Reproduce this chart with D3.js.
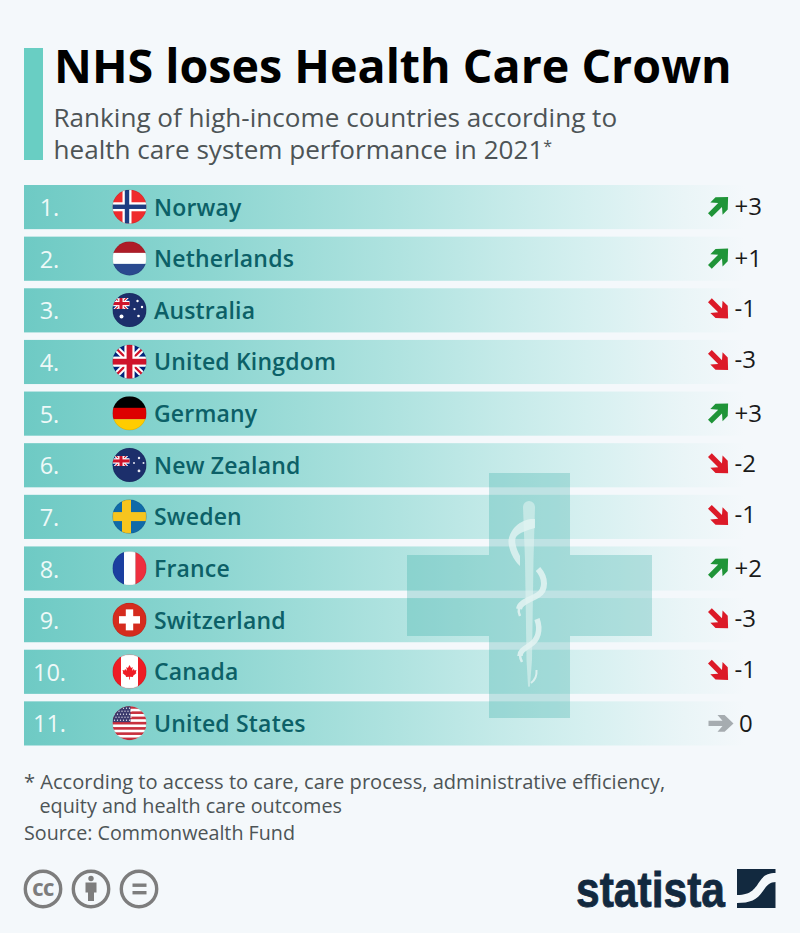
<!DOCTYPE html>
<html>
<head>
<meta charset="utf-8">
<script src="https://cdn.jsdelivr.net/npm/d3@7"></script>
<style>
  html, body { margin: 0; padding: 0; background: #f4f8fb; }
  svg { display: block; font-family: "Open Sans", sans-serif; }
</style>
</head>
<body>
<svg id="chart" width="800" height="933"></svg>
<script>
const countries = ["Norway", "Netherlands", "Australia", "United Kingdom", "Germany", "New Zealand",
  "Sweden", "France", "Switzerland", "Canada", "United States"];
const ranks = [1, 2, 3, 4, 5, 6, 7, 8, 9, 10, 11];
const changes = [3, 1, -1, -3, 3, -2, -1, 2, -3, -1, 0];
const subtitleLines = ["Ranking of high-income countries according to", "health care system performance in 2021"];
const noteLines = ["* According to access to care, care process, administrative efficiency,", "equity and health care outcomes"];

const svg = d3.select("#chart");
const defs = svg.append("defs");

const grad = defs.append("linearGradient")
  .attr("id", "rowFade")
  .attr("gradientUnits", "userSpaceOnUse")
  .attr("x1", 24).attr("x2", 775).attr("y1", 0).attr("y2", 0);
[[0, "#6ecac4"], [0.25, "#8dd6d1"], [0.5, "#b0e3e0"], [0.75, "#d6f0f0"], [0.88, "#eaf5f7"], [0.96, "#f4f8fb"]].forEach(s => {
  grad.append("stop").attr("offset", s[0]).attr("stop-color", s[1]);
});

const r = 17;
defs.append("clipPath").attr("id", "flagClip")
  .append("circle").attr("r", r);

// rows
const y = d3.scaleBand()
  .domain(countries)
  .range([185, 745.5])
  .paddingInner(0.145)
  .paddingOuter(0);

// header
svg.append("rect").attr("x", 24).attr("y", 48).attr("width", 19).attr("height", 112).attr("fill", "#69cec3");
svg.append("text").attr("x", 54).attr("y", 83)
  .attr("font-size", 46.6).attr("font-weight", 700).attr("fill", "#000")
  .text("NHS loses Health Care Crown");
const sub = svg.append("g").selectAll("text").data(subtitleLines).join("text")
  .attr("x", 53.5)
  .attr("y", (d, i) => 127 + i * 31.5)
  .attr("font-size", 26.1).attr("fill", "#4d5456")
  .text(d => d);
// the asterisk is set as a small superscript in the second line
sub.filter((d, i) => i === 1).append("tspan")
  .attr("font-size", 16).attr("dy", -7).text("*");

const row = svg.append("g").selectAll("g").data(countries).join("g")
  .attr("class", "row");

row.append("rect")
  .attr("x", 24).attr("width", 751)
  .attr("y", d => y(d)).attr("height", y.bandwidth())
  .attr("fill", "url(#rowFade)");

// cross watermark sits over the bars, rod and snake on top of it
const cross = svg.append("g");
cross.append("path")
  .attr("d", "M489,473H570V555H652V636H570V718H489V636H407V555H489Z")
  .attr("fill", "#00948e").attr("opacity", 0.22);
const rodFill = "#e4f4f3";
cross.append("path")
  .attr("d", "M523,507a6,6 0 0 1 12,0L533.5,560L532,660L530,686q-1,2 -2,0L526.5,660L525,560Z")
  .attr("fill", rodFill).attr("opacity", 0.55);
const snake = cross.append("g").attr("fill", "none").attr("stroke", rodFill).attr("opacity", 0.85);
cross.append("path")
  .attr("d", "M535,519C524,518 511,526 508.5,540C508,548 513,560 520,566L520,556C516,548 514,541 516,537C520,532 528,530 535,528Z")
  .attr("fill", rodFill).attr("opacity", 0.8);
snake.append("path").attr("stroke-width", 6)
  .attr("d", "M538,569C546,578 546,590 538,595C530,600 520,602 519,609");
snake.append("path").attr("stroke-width", 2.5)
  .attr("d", "M519,608C518,612 519,614 520,616");
snake.append("path").attr("stroke-width", 5.5)
  .attr("d", "M537,619C541,630 538,640 530,645C524,649 520,651 520,656");
snake.append("path").attr("stroke-width", 2.5)
  .attr("d", "M520,655C520,658 521,660 522,662");
snake.append("path").attr("stroke-width", 2)
  .attr("d", "M536.5,670C537,676 535,680 531,683");

const rowLabels = svg.append("g").selectAll("g").data(countries).join("g")
  .attr("transform", d => `translate(0,${y(d) + y.bandwidth() / 2})`);

rowLabels.append("text")
  .data(ranks)
  .attr("x", 49.5).attr("y", 9).attr("text-anchor", "middle")
  .attr("font-size", 23.5).attr("fill", "#eef9f8")
  .text(d => d + ".");

rowLabels.data(countries).append("text")
  .attr("x", 154).attr("y", 8.5)
  .attr("font-size", 23).attr("font-weight", 600).attr("letter-spacing", 0.18)
  .attr("fill", "#0c6067")
  .text(d => d);

// flags, drawn in a local box around the circle centre
const RED = "#ef2b2d", NAVY = "#1c2f6b", BLUE = "#00247d";
function rect(g, x, yy, w, h, fill) {
  g.append("rect").attr("x", x).attr("y", yy).attr("width", w).attr("height", h).attr("fill", fill);
}
function line(g, x1, y1, x2, y2, stroke, width) {
  g.append("line").attr("x1", x1).attr("y1", y1).attr("x2", x2).attr("y2", y2)
    .attr("stroke", stroke).attr("stroke-width", width);
}
function union(g, s, ox, oy) {
  // union jack, s = half width, centred on ox,oy
  const h = s;
  const u = g.append("g").attr("transform", `translate(${ox},${oy})`);
  u.append("rect").attr("x", -s).attr("y", -h).attr("width", 2 * s).attr("height", 2 * h).attr("fill", BLUE);
  line(u, -s, -h, s, h, "#fff", s * 0.36);
  line(u, -s, h, s, -h, "#fff", s * 0.36);
  line(u, -s, -h, s, h, "#cf142b", s * 0.13);
  line(u, -s, h, s, -h, "#cf142b", s * 0.13);
  rect(u, -s, -h * 0.3, 2 * s, h * 0.6, "#fff");
  rect(u, -s * 0.3, -h, s * 0.6, 2 * h, "#fff");
  rect(u, -s, -h * 0.17, 2 * s, h * 0.34, "#cf142b");
  rect(u, -s * 0.17, -h, s * 0.34, 2 * h, "#cf142b");
}
function stars(g, pts, fill) {
  g.selectAll("circle.st").data(pts).join("circle").attr("class", "st")
    .attr("cx", d => d[0]).attr("cy", d => d[1]).attr("r", d => d[2]).attr("fill", fill);
}
const flags = {
  "Norway": g => {
    rect(g, -r, -r, 2 * r, 2 * r, RED);
    rect(g, -r, -4.5, 2 * r, 9, "#fff");
    rect(g, -7, -r, 9, 2 * r, "#fff");
    rect(g, -r, -2.2, 2 * r, 4.4, "#1d3e82");
    rect(g, -4.7, -r, 4.4, 2 * r, "#1d3e82");
  },
  "Netherlands": g => {
    rect(g, -r, -r, 2 * r, 11.5, "#ae1c28");
    rect(g, -r, -5.5, 2 * r, 11, "#fff");
    rect(g, -r, 5.5, 2 * r, 12, "#2a4a8f");
  },
  "Australia": g => {
    rect(g, -r, -r, 2 * r, 2 * r, NAVY);
    g.append("clipPath").attr("id", "auClip").append("rect").attr("x", -r).attr("y", -12).attr("width", 17).attr("height", 11);
    union(g.append("g").attr("clip-path", "url(#auClip)"), 9, -8.5, -6.5);
    stars(g, [[-8, 6.5, 2], [8, -9, 1.2], [12.5, -3, 1.2], [5, -1, 1.1], [9, 6, 1.3]], "#fff");
  },
  "United Kingdom": g => union(g, r, 0, 0),
  "Germany": g => {
    rect(g, -r, -r, 2 * r, 12, "#000");
    rect(g, -r, -5.5, 2 * r, 11.5, "#dd0000");
    rect(g, -r, 6, 2 * r, 11, "#ffcc00");
  },
  "New Zealand": g => {
    rect(g, -r, -r, 2 * r, 2 * r, NAVY);
    g.append("clipPath").attr("id", "nzClip").append("rect").attr("x", -r).attr("y", -9).attr("width", 17).attr("height", 10);
    union(g.append("g").attr("clip-path", "url(#nzClip)"), 9, -8.5, -4);
    stars(g, [[9.5, -7, 1.2], [14, -2, 1], [4.5, -2, 1], [9.5, 6, 1.4]], "#e8e8f0");
  },
  "Sweden": g => {
    rect(g, -r, -r, 2 * r, 2 * r, "#106aa8");
    rect(g, -r, -4.5, 2 * r, 9, "#f7c51e");
    rect(g, -7.5, -r, 9, 2 * r, "#f7c51e");
  },
  "France": g => {
    rect(g, -r, -r, 11.5, 2 * r, "#1b3fa0");
    rect(g, -5.5, -r, 11.5, 2 * r, "#fff");
    rect(g, 6, -r, 11, 2 * r, "#ee2f3f");
  },
  "Switzerland": g => {
    rect(g, -r, -r, 2 * r, 2 * r, "#d52b1e");
    rect(g, -10.5, -3.7, 21, 7.4, "#fff");
    rect(g, -3.7, -10.5, 7.4, 21, "#fff");
  },
  "Canada": g => {
    rect(g, -r, -r, 2 * r, 2 * r, "#ee1c25");
    rect(g, -8.5, -r, 17, 2 * r, "#fff");
    g.append("path")
      .attr("d", "M0,-6.5L1.6,-3.6L3.2,-4.4L2.6,-0.8L4.4,-2.4L5,-1L7,-1.4L6.3,1L7,1.6L3.4,4.4L3.7,5.6L0.4,5.2V8H-0.4V5.2L-3.7,5.6L-3.4,4.4L-7,1.6L-6.3,1L-7,-1.4L-5,-1L-4.4,-2.4L-2.6,-0.8L-3.2,-4.4L-1.6,-3.6Z")
      .attr("fill", "#ee1c25");
  },
  "United States": g => {
    rect(g, -r, -r, 2 * r, 2 * r, "#fff");
    d3.range(0, 7).forEach(i => rect(g, -r, -r + i * 5.24, 2 * r, 2.62, "#c8313e"));
    rect(g, -r, -r, 18, 16, "#3c3b6e");
    const pts = [];
    d3.range(0, 5).forEach(a => d3.range(0, 6).forEach(b => pts.push([-15 + b * 3 + (a % 2) * 1.5, -15 + a * 3, 0.6])));
    stars(g, pts, "#fff");
  }
};

const flagG = svg.append("g").selectAll("g").data(countries).join("g")
  .attr("transform", d => `translate(129.5,${y(d) + y.bandwidth() / 2 - 0.3})`);
flagG.each(function (d) {
  const holder = d3.select(this);
  const inner = holder.append("g").attr("clip-path", "url(#flagClip)");
  flags[d](inner);
  holder.append("circle").attr("r", r - 0.25).attr("fill", "none")
    .attr("stroke", "#000").attr("stroke-opacity", 0.18).attr("stroke-width", 0.5);
});

// change arrows and values
const arrowPath = "M-12.5,-2.6H1.5L-3.5,-8.4H3.6L12.5,0L3.6,8.4H-3.5L1.5,2.6H-12.5Z";
const trend = svg.append("g").selectAll("g").data(changes).join("g")
  .attr("transform", (d, i) => `translate(0,${y(countries[i]) + y.bandwidth() / 2})`);

trend.append("path")
  .attr("d", arrowPath)
  .attr("transform", d => d > 0 ? "translate(719,-1) rotate(-45) scale(1.03)"
    : d < 0 ? "translate(719,-1) rotate(45) scale(1.03)" : "translate(721,0)")
  .attr("fill", d => d > 0 ? "#1f9438" : d < 0 ? "#dc1a28" : "#a6acb0");

trend.append("text")
  .attr("x", d => d === 0 ? 739 : 734.5)
  .attr("y", d => d === 0 ? 8.5 : (d > 0 ? 8.3 : 6.5))
  .attr("font-size", 24).attr("fill", "#1a1a1a")
  .text(d => d > 0 ? "+" + d : String(d));

// notes
svg.append("g").selectAll("text").data(noteLines).join("text")
  .attr("x", (d, i) => i === 0 ? 24 : 39.5)
  .attr("y", (d, i) => 789 + i * 24)
  .attr("font-size", (d, i) => i === 0 ? 20.1 : 19.8).attr("fill", "#4d5456")
  .text(d => d);
svg.append("text").attr("x", 24).attr("y", 840)
  .attr("font-size", 19.7).attr("fill", "#4d5456")
  .text("Source: Commonwealth Fund");

// licence icons
const iconX = [43, 91, 139];
const grey = "#7d7d7d";
svg.append("g").selectAll("circle").data(iconX).join("circle")
  .attr("cx", d => d).attr("cy", 889).attr("r", 17.7)
  .attr("fill", "none").attr("stroke", grey).attr("stroke-width", 3.4);
svg.append("text").attr("x", 43).attr("y", 895.5).attr("text-anchor", "middle")
  .attr("font-size", 17.5).attr("font-weight", 800).attr("letter-spacing", -0.5).attr("fill", grey).text("CC");
svg.append("circle").attr("cx", 91).attr("cy", 878.5).attr("r", 2.7).attr("fill", grey);
svg.append("path").attr("d", "M85.5,882.5H96.5V892.5H94V901H88V892.5H85.5Z").attr("fill", grey);
svg.append("rect").attr("x", 132.5).attr("y", 883.5).attr("width", 14).attr("height", 3.4).attr("fill", grey);
svg.append("rect").attr("x", 132.5).attr("y", 891).attr("width", 14).attr("height", 3.4).attr("fill", grey);

// statista logo
const navy = "#12293f";
svg.append("text").attr("x", 576).attr("y", 907)
  .attr("font-family", "'Liberation Sans Narrow', 'Liberation Sans', sans-serif")
  .attr("font-size", 50).attr("font-weight", 700)
  .attr("textLength", 149).attr("lengthAdjust", "spacingAndGlyphs")
  .attr("fill", navy).attr("stroke", navy).attr("stroke-width", 0.8)
  .text("statista");
svg.append("rect").attr("x", 737).attr("y", 869).attr("width", 38.5).attr("height", 39).attr("fill", navy);
svg.append("path")
  .attr("d", "M737,895C752,895 755,888 760,881C764,875 768,873 776,873V882C770,882 767,885 763,891C757,900 750,903 737,903Z")
  .attr("fill", "#f4f8fb");
</script>
</body>
</html>
